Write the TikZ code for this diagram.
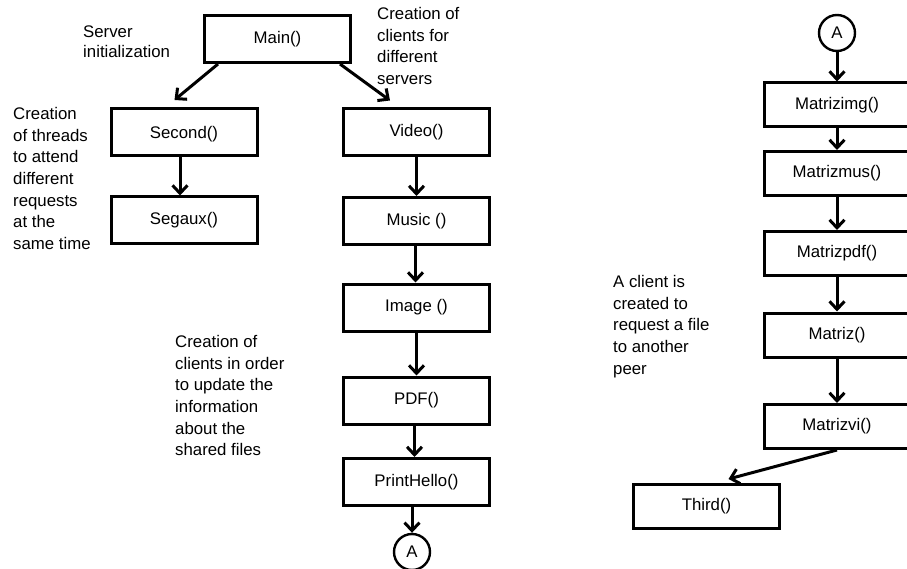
\documentclass[tikz,border=0pt]{standalone}
\usepackage{fontspec}
\setmainfont{Liberation Sans}
\usetikzlibrary{arrows.meta}

\tikzset{
  fnbox/.style={draw, line width=3pt, minimum width=146pt, minimum height=47pt,
                inner sep=0pt, font=\fontsize{16.8}{20}\selectfont},
  connector/.style={circle, draw, line width=2.4pt, minimum size=36pt, inner sep=0pt,
                font=\fontsize{16.8}{20}\selectfont},
  note/.style={anchor=north west, inner sep=0pt, align=left,
                font=\fontsize{16.8}{21.7}\selectfont},
  arr/.style={line width=3pt, -{Straight Barb[length=8pt,width=15pt,line width=3pt]}},
}

\begin{document}
\begin{tikzpicture}[x=1pt,y=-1pt]
  \useasboundingbox (0,0) rectangle (907,569);
  \fill[white] (0,0) rectangle (907,569);
  \clip (0,0) rectangle (907,569);

  % server side
  \node[fnbox] (main)   at (277.5,39)  {Main()};
  \node[fnbox, text height=18pt, text depth=4pt] (second) at (184,132) {Second()};
  \node[fnbox] (segaux) at (184,220.5) {Segaux()};

  % clients for the different servers
  \node[fnbox] (video) at (416.5,132.5) {Video()};
  \node[fnbox] (music) at (416.5,221)   {Music ()};
  \node[fnbox] (image) at (416.5,307.5) {Image ()};
  \node[fnbox] (pdf)   at (416.5,400.5) {PDF()};
  \node[fnbox] (hello) at (416.5,482)   {PrintHello()};
  \node[connector] (a1) at (412,552) {A};

  % continuation
  \node[connector] (a2) at (837,33) {A};
  \node[fnbox, minimum height=44pt] (mimg) at (837,105)   {Matrizimg()};
  \node[fnbox, minimum height=44pt] (mmus) at (837,173.5) {Matrizmus()};
  \node[fnbox, minimum height=44pt] (mpdf) at (837,253.5) {Matrizpdf()};
  \node[fnbox, minimum height=44pt] (mat)  at (837,335)   {Matriz()};
  \node[fnbox, minimum height=44pt] (mvi)  at (837,426.5) {Matrizvi()};
  \node[fnbox, minimum height=44pt] (third) at (706.5,506.5) {Third()};

  % notes
  \node[note, font=\fontsize{16.8}{20}\selectfont] (n1) at (83,26) {Server\\initialization};
  \node[note] (n2) at (13,107) {Creation\\of threads\\to attend\\different\\requests\\at the\\same time};
  \node[note] (n3) at (377,7) {Creation of\\clients for\\different\\servers};
  \node[note] (n4) at (175,335) {Creation of\\clients in order\\to update the\\information\\about the\\shared files};
  \node[note] (n5) at (613,275) {A client is\\created to\\request a file\\to another\\peer};

  % connectors
  \draw[arr] ([xshift=15pt]main.south west) -- ([xshift=65pt,yshift=7pt]second.north west);
  \draw[arr] ([xshift=-12pt]main.south east) -- ([xshift=48pt,yshift=7pt]video.north west);
  \draw[arr] ([xshift=-4pt]second.south) -- ([xshift=-4pt]segaux.north);
  \draw[arr] (video.south) -- (music.north);
  \draw[arr] ([xshift=-1pt]music.south) -- ([xshift=-1pt]image.north);
  \draw[arr] (image.south) -- (pdf.north);
  \draw[arr] ([xshift=-2pt]pdf.south) -- ([xshift=-2pt]hello.north);
  \draw[arr] ([xshift=-4.5pt]hello.south) -- (a1.north);

  \draw[arr] (a2.south) -- (mimg.north);
  \draw[arr] (mimg.south) -- (mmus.north);
  \draw[arr] (mmus.south) -- (mpdf.north);
  \draw[arr] (mpdf.south) -- (mat.north);
  \draw[arr] (mat.south) -- (mvi.north);
  \draw[arr] (mvi.south) -- ([xshift=22pt,yshift=4pt]third.north);
\end{tikzpicture}
\end{document}
